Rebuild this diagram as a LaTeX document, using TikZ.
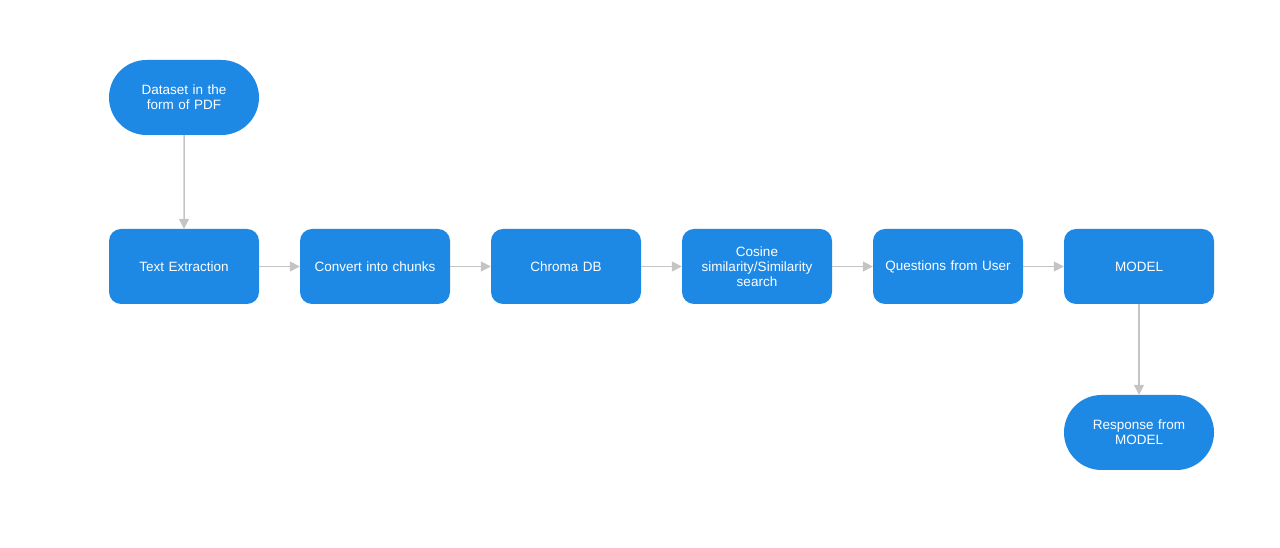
\documentclass[tikz,border=0pt]{standalone}
\usepackage{fontspec}
\setmainfont{Liberation Sans}
\usetikzlibrary{arrows.meta,shapes.misc}
\definecolor{boxblue}{HTML}{1E88E5}
\definecolor{linegray}{HTML}{C4C4C4}
\begin{document}
\begin{tikzpicture}[x=1pt,y=1pt,
  base/.style={fill=boxblue, draw=none, text=white, minimum height=75pt,
    inner sep=2pt, align=center, text width=140pt, font=\fontsize{13.5}{15}\selectfont},
  procbox/.style={base, rectangle, rounded corners=12pt, minimum width=150pt},
  termbox/.style={base, rounded rectangle, rounded rectangle arc length=180, minimum width=154pt},
  conn/.style={draw=linegray, line width=1.5pt, -{Triangle[length=10pt,width=10pt]}}]
\useasboundingbox (0,0) rectangle (1280,548);
\node[termbox] (ds) at (184,450.5) {Dataset in the\\form of PDF};
\node[procbox] (te) at (184,281.5) {Text Extraction};
\node[procbox] (cc) at (375,281.5) {Convert into chunks};
\node[procbox] (cd) at (566,281.5) {Chroma DB};
\node[procbox] (cs) at (757,281.5) {Cosine\\similarity/Similarity\\search};
\node[procbox] (qu) at (948,281.5) {Questions from User};
\node[procbox] (mo) at (1139,281.5) {MODEL};
\node[termbox] (re) at (1139,115.5) {Response from\\MODEL};
\draw[conn] (ds) -- (te);
\draw[conn] (te) -- (cc);
\draw[conn] (cc) -- (cd);
\draw[conn] (cd) -- (cs);
\draw[conn] (cs) -- (qu);
\draw[conn] (qu) -- (mo);
\draw[conn] (mo) -- (re);
\end{tikzpicture}
\end{document}
